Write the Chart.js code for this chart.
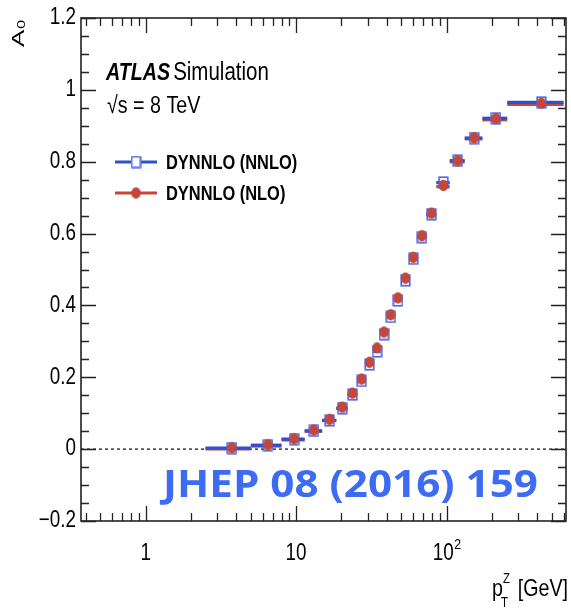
<!DOCTYPE html>
<html>
<head>
<meta charset="utf-8">
<script src="https://cdn.jsdelivr.net/npm/chart.js@4/dist/chart.umd.min.js"></script>
<style>
  html, body { margin: 0; padding: 0; background: #fff; }
  canvas { display: block; }
</style>
</head>
<body>
<canvas id="chart" width="571" height="610"></canvas>
<script>
// pT(Z) bins [GeV]
const binLow  = [2.5, 5, 8, 11.4, 14.9, 18.5, 22, 25.5, 29, 32.6, 36.4, 40.4, 44.9, 50.2, 56.4, 63.9, 73.4, 85.4, 105, 132, 173, 253];
const binHigh = [5, 8, 11.4, 14.9, 18.5, 22, 25.5, 29, 32.6, 36.4, 40.4, 44.9, 50.2, 56.4, 63.9, 73.4, 85.4, 105, 132, 173, 253, 600];

// A0 values
const nnloValues = [0.003, 0.011, 0.028, 0.051, 0.080, 0.114, 0.152, 0.190, 0.236, 0.272, 0.320, 0.368, 0.414, 0.470, 0.530, 0.590, 0.654, 0.742, 0.803, 0.866, 0.921, 0.965];
const nloValues  = [0.004, 0.012, 0.029, 0.053, 0.083, 0.117, 0.156, 0.195, 0.242, 0.282, 0.326, 0.374, 0.421, 0.476, 0.534, 0.594, 0.657, 0.734, 0.803, 0.867, 0.920, 0.963];

const xLabelValues = [1, 10, 100];
const yLabelValues = [-0.2, 0, 0.2, 0.4, 0.6, 0.8, 1, 1.2];

const BLUE = '#2c4fd4';
const BLUE_MK = '#4a66e6';
const RED = '#c4473a';
const SQ = 0.82; // horizontal squeeze of the original picture

function squareMarker() {
  const c = document.createElement('canvas');
  c.width = 11; c.height = 13;
  const g = c.getContext('2d');
  g.strokeStyle = BLUE_MK;
  g.lineWidth = 1.6;
  g.strokeRect(1.2, 1.2, 8.6, 10.6);
  return c;
}
function circleMarker() {
  const c = document.createElement('canvas');
  c.width = 11; c.height = 13;
  const g = c.getContext('2d');
  g.fillStyle = RED;
  g.beginPath();
  g.ellipse(5.5, 6.5, 4.7, 5.8, 0, 0, Math.PI * 2);
  g.fill();
  return c;
}
const sqImg = squareMarker();
const ciImg = circleMarker();

const toPoints = vals => vals.map((v, i) => ({x: (binLow[i] + binHigh[i]) / 2, y: v}));

function text(ctx, str, x, y, font, opts = {}) {
  ctx.save();
  ctx.translate(x, y);
  ctx.scale(opts.sx || SQ, 1);
  ctx.font = font;
  ctx.fillStyle = opts.color || '#000';
  ctx.textAlign = opts.align || 'left';
  ctx.textBaseline = opts.baseline || 'alphabetic';
  ctx.fillText(str, 0, 0);
  ctx.restore();
}
function textWidth(ctx, str, font, sx) {
  ctx.save();
  ctx.font = font;
  const w = ctx.measureText(str).width * (sx || SQ);
  ctx.restore();
  return w;
}

const binBars = {
  id: 'binBars',
  beforeDatasetsDraw(chart) {
    const {ctx, chartArea: a, scales: {x, y}} = chart;
    ctx.save();
    // dashed zero line
    ctx.strokeStyle = '#444';
    ctx.lineWidth = 1.6;
    ctx.setLineDash([3, 3]);
    ctx.beginPath();
    ctx.moveTo(a.left, y.getPixelForValue(0));
    ctx.lineTo(a.right, y.getPixelForValue(0));
    ctx.stroke();
    ctx.setLineDash([]);
    // horizontal bin-width bars
    [[nloValues, RED, 1.2], [nnloValues, BLUE, 0]].forEach(([vals, col, dy]) => {
      ctx.strokeStyle = col;
      ctx.lineWidth = 3.2;
      vals.forEach((v, i) => {
        const py = y.getPixelForValue(v) + dy;
        ctx.beginPath();
        ctx.moveTo(x.getPixelForValue(binLow[i]), py);
        ctx.lineTo(x.getPixelForValue(binHigh[i]), py);
        ctx.stroke();
      });
    });
    ctx.restore();
  }
};

const frame = {
  id: 'frame',
  afterDraw(chart) {
    const {ctx, chartArea: a, scales: {x, y}} = chart;
    ctx.save();
    ctx.strokeStyle = '#222';
    ctx.lineWidth = 1.6;
    ctx.strokeRect(a.left, a.top, a.right - a.left, a.bottom - a.top);

    ctx.lineWidth = 1.3;
    // y ticks, every 0.05, major every 0.2
    for (let k = -4; k <= 24; k++) {
      const py = Math.round(y.getPixelForValue(k * 0.05)) + 0.5;
      const len = k % 4 === 0 ? 15 : 8;
      ctx.beginPath();
      ctx.moveTo(a.left, py); ctx.lineTo(a.left + len, py);
      ctx.moveTo(a.right, py); ctx.lineTo(a.right - len, py);
      ctx.stroke();
    }
    // x ticks, log
    for (let e = -1; e <= 2; e++) {
      for (let m = 1; m <= 9; m++) {
        const v = m * Math.pow(10, e);
        if (v < x.min || v > x.max) continue;
        const px = Math.round(x.getPixelForValue(v)) + 0.5;
        const len = m === 1 ? 15 : 8;
        ctx.beginPath();
        ctx.moveTo(px, a.bottom); ctx.lineTo(px, a.bottom - len);
        ctx.moveTo(px, a.top); ctx.lineTo(px, a.top + len);
        ctx.stroke();
      }
    }
    ctx.restore();

    // tick labels
    yLabelValues.forEach(v => {
      const s = String(v).replace('-', '\u2212');
      text(ctx, s, a.left - 5, y.getPixelForValue(v), '23px "Liberation Sans", Arial', {align: 'right', baseline: 'middle'});
    });
    const lf = '23px "Liberation Sans", Arial';
    xLabelValues.forEach(v => {
      const px = x.getPixelForValue(v);
      if (v === 100) {
        const w1 = textWidth(ctx, '10', lf);
        const w2 = textWidth(ctx, '2', '15px "Liberation Sans", Arial');
        const x0 = px - (w1 + w2) / 2;
        text(ctx, '10', x0, 560, lf);
        text(ctx, '2', x0 + w1 + 0.5, 549, '15px "Liberation Sans", Arial');
      } else {
        text(ctx, String(v), px, 560, lf, {align: 'center'});
      }
    });

    // axis titles
    ctx.save();
    ctx.translate(24, 47);
    ctx.scale(0.66, 1);
    ctx.rotate(-Math.PI / 2);
    ctx.fillStyle = '#000';
    ctx.font = '26px "Liberation Sans", Arial';
    ctx.fillText('A', 0, 0);
    const aw = ctx.measureText('A').width;
    ctx.font = '16px "Liberation Sans", Arial';
    ctx.fillText('0', aw + 1, 2);
    ctx.restore();

    const tf = '24px "Liberation Sans", Arial';
    const gevW = textWidth(ctx, '[GeV]', tf);
    text(ctx, '[GeV]', 568 - gevW, 596, tf);
    text(ctx, 'p', 492, 596, tf);
    text(ctx, 'Z', 503, 583, '14px "Liberation Sans", Arial');
    text(ctx, 'T', 501, 607, '14px "Liberation Sans", Arial');

    // ATLAS label
    const af = 'italic bold 24px "Liberation Sans", Arial';
    const atlasW = textWidth(ctx, 'ATLAS', af);
    text(ctx, 'ATLAS', 106, 80, af);
    text(ctx, 'Simulation', 106 + atlasW + 3, 80, '25px "Liberation Sans", Arial');
    text(ctx, '\u221As = 8 TeV', 107, 113, '24px "Liberation Sans", Arial');

    // legend
    ctx.save();
    ctx.lineWidth = 3;
    ctx.strokeStyle = BLUE;
    ctx.beginPath(); ctx.moveTo(115, 162); ctx.lineTo(157, 162); ctx.stroke();
    ctx.strokeStyle = RED;
    ctx.beginPath(); ctx.moveTo(115, 193); ctx.lineTo(157, 193); ctx.stroke();
    ctx.fillStyle = '#fff';
    ctx.fillRect(131, 157, 10, 11);
    ctx.drawImage(sqImg, 136 - sqImg.width / 2, 162 - sqImg.height / 2);
    ctx.drawImage(ciImg, 136 - ciImg.width / 2, 193 - ciImg.height / 2);
    ctx.restore();
    const gf = 'bold 20px "Liberation Sans", Arial';
    text(ctx, 'DYNNLO (NNLO)', 166, 163, gf, {baseline: 'middle'});
    text(ctx, 'DYNNLO (NLO)', 166, 194, gf, {baseline: 'middle'});

    // journal stamp
    const jf = 'bold 38px "Open Sans", "Noto Sans", sans-serif';
    const jw = textWidth(ctx, 'JHEP 08 (2016) 159', jf, 1);
    text(ctx, 'JHEP 08 (2016) 159', 163, 497, jf, {sx: 375 / jw, color: '#3d6cf2'});
  }
};

new Chart(document.getElementById('chart'), {
  type: 'scatter',
  data: {
    datasets: [
      {
        label: 'DYNNLO (NNLO)',
        data: toPoints(nnloValues),
        pointStyle: sqImg,
        order: 1,
        showLine: false
      },
      {
        label: 'DYNNLO (NLO)',
        data: toPoints(nloValues),
        pointStyle: ciImg,
        order: 0,
        showLine: false
      }
    ]
  },
  options: {
    responsive: false,
    animation: false,
    events: [],
    layout: {padding: {left: 0, top: 18, right: 5, bottom: 0}},
    plugins: {legend: {display: false}, tooltip: {enabled: false}},
    scales: {
      x: {
        type: 'logarithmic',
        min: 0.372,
        max: 622,
        grid: {display: false},
        border: {display: false},
        ticks: {display: false},
        afterFit: s => { s.height = 89; }
      },
      y: {
        min: -0.2,
        max: 1.2,
        grid: {display: false},
        border: {display: false},
        ticks: {display: false, stepSize: 0.2},
        afterFit: s => { s.width = 81; }
      }
    }
  },
  plugins: [binBars, frame]
});
</script>
</body>
</html>
